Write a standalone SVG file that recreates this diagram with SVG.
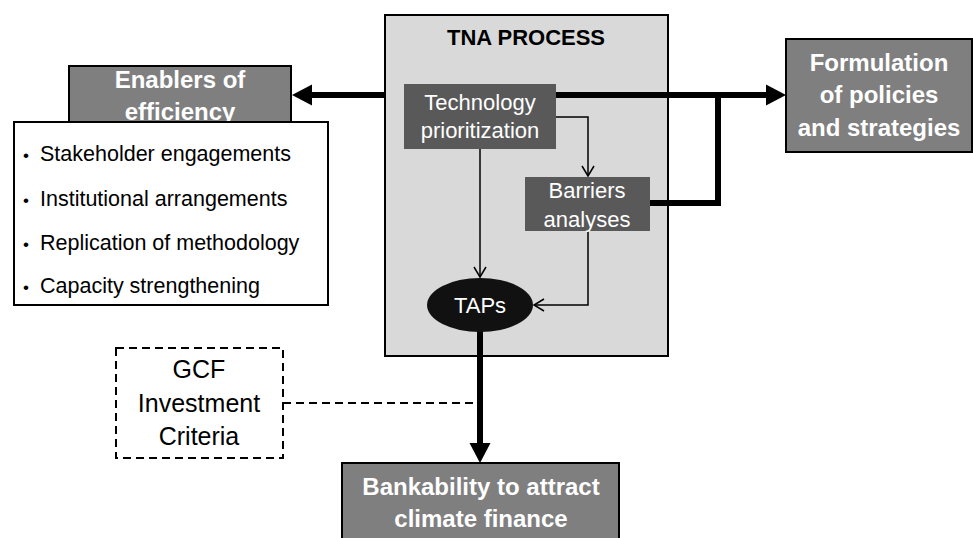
<svg xmlns="http://www.w3.org/2000/svg" width="973" height="538" viewBox="0 0 973 538">
<style>
  text { font-family: "Liberation Sans", Arial, sans-serif; }
  .bold { font-weight: bold; fill: #ffffff; font-size: 24px; text-anchor: middle; }
  .title { font-weight: bold; fill: #000000; font-size: 22px; text-anchor: middle; }
  .inner { fill: #ffffff; font-size: 22px; text-anchor: middle; }
  .list { fill: #000000; font-size: 21.5px; }
  .bullet { font-size: 17px; }
  .gcf { fill: #000000; font-size: 25px; text-anchor: middle; }
  .grey { fill: #7f7f7f; stroke: #000000; stroke-width: 2; }
  .dark { fill: #595959; }
  .thick { fill: none; stroke: #000000; stroke-width: 6; }
  .thin { fill: none; stroke: #000000; stroke-width: 1.5; }
  .dash { fill: none; stroke: #000000; stroke-width: 2; stroke-dasharray: 8 5; }
</style>
<defs>
  <marker id="big" markerUnits="userSpaceOnUse" markerWidth="22" markerHeight="22" refX="0" refY="10.5" orient="auto" overflow="visible">
    <path d="M0,0 L20,10.5 L0,21 Z" fill="#000000"/>
  </marker>
  <marker id="open" markerUnits="userSpaceOnUse" markerWidth="14" markerHeight="14" refX="10" refY="6" orient="auto" overflow="visible">
    <path d="M0,0 L10,6 L0,12" fill="none" stroke="#000000" stroke-width="1.5"/>
  </marker>
</defs>
<rect width="973" height="538" fill="#ffffff"/>

<g id="tna-process">
  <rect x="385" y="15" width="283" height="341" fill="#d9d9d9" stroke="#000000" stroke-width="2"/>
  <text class="title" x="526" y="45">TNA PROCESS</text>
</g>

<g id="enablers">
  <rect class="grey" x="69" y="66" width="222" height="60"/>
  <text class="bold" x="180" y="88">Enablers of</text>
  <text class="bold" x="180" y="120">efficiency</text>
</g>

<g id="enablers-list">
  <rect x="14" y="122" width="314" height="183" fill="#ffffff" stroke="#000000" stroke-width="2"/>
  <text class="list" y="161"><tspan class="bullet" x="23">•</tspan><tspan x="40">Stakeholder engagements</tspan></text>
  <text class="list" y="206"><tspan class="bullet" x="23">•</tspan><tspan x="40">Institutional arrangements</tspan></text>
  <text class="list" y="250"><tspan class="bullet" x="23">•</tspan><tspan x="40">Replication of methodology</tspan></text>
  <text class="list" y="293"><tspan class="bullet" x="23">•</tspan><tspan x="40">Capacity strengthening</tspan></text>
</g>

<g id="formulation">
  <rect class="grey" x="786" y="39" width="186" height="113"/>
  <text class="bold" x="879" y="71">Formulation</text>
  <text class="bold" x="879" y="103">of policies</text>
  <text class="bold" x="879" y="136">and strategies</text>
</g>

<g id="bankability">
  <rect class="grey" x="342" y="463" width="277" height="85"/>
  <text class="bold" x="481" y="495">Bankability to attract</text>
  <text class="bold" x="481" y="527">climate finance</text>
</g>

<g id="gcf">
  <rect class="dash" x="116" y="348" width="167" height="110"/>
  <text class="gcf" x="199" y="378">GCF</text>
  <text class="gcf" x="199" y="412">Investment</text>
  <text class="gcf" x="199" y="445">Criteria</text>
</g>

<g id="connectors">
  <path class="thick" d="M385,95 H312" marker-end="url(#big)"/>
  <path class="thick" d="M556,95 H766" marker-end="url(#big)"/>
  <path class="thick" d="M650,203 H718 V95"/>
  <path class="thick" d="M480,330 V443" marker-end="url(#big)"/>
  <path class="dash" d="M283,403 H478"/>
  <path class="thin" d="M480,149 V277" marker-end="url(#open)"/>
  <path class="thin" d="M556,117 H588 V176" marker-end="url(#open)"/>
  <path class="thin" d="M588,231 V305 H534" marker-end="url(#open)"/>
</g>

<g id="technology">
  <rect class="dark" x="404" y="84" width="152" height="65"/>
  <text class="inner" x="480" y="110">Technology</text>
  <text class="inner" x="480" y="138">prioritization</text>
</g>

<g id="barriers">
  <rect class="dark" x="525" y="177" width="125" height="54"/>
  <text class="inner" x="587" y="198">Barriers</text>
  <text class="inner" x="587" y="227">analyses</text>
</g>

<g id="taps">
  <ellipse cx="480" cy="305" rx="53" ry="27" fill="#111111"/>
  <text class="inner" x="480" y="313">TAPs</text>
</g>
</svg>
